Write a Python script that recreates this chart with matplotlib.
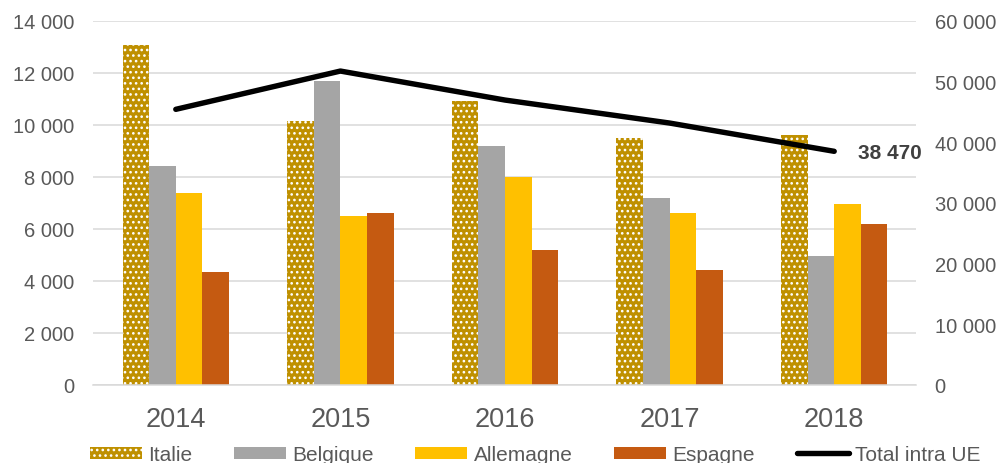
import matplotlib
matplotlib.use("Agg")
import matplotlib.pyplot as plt
import numpy as np
from matplotlib.patches import Patch
from matplotlib.lines import Line2D

years = ["2014", "2015", "2016", "2017", "2018"]
italie = [13060, 10140, 10900, 9500, 9610]
belgique = [8410, 11670, 9170, 7180, 4960]
allemagne = [7390, 6500, 8000, 6620, 6940]
espagne = [4320, 6600, 5180, 4410, 6190]
total_ue = [45390, 51700, 46920, 43130, 38470]
left_ticks = [0, 2000, 4000, 6000, 8000, 10000, 12000, 14000]
right_ticks = [0, 10000, 20000, 30000, 40000, 50000, 60000]

def fmt(v):
    return f"{v:,}".replace(",", " ")

plt.rcParams['font.family'] = ['Liberation Sans', 'DejaVu Sans']
plt.rcParams['hatch.linewidth'] = 1.1

TXT = "#595959"
C_IT = "#BF9000"
C_BE = "#A5A5A5"
C_AL = "#FFC000"
C_ES = "#C55A11"
GRID = "#D9D9D9"

fig = plt.figure(figsize=(10.03, 4.64), dpi=100)
ax = fig.add_axes([93.5/1003, (464-385.7)/464, (916.5-93.5)/1003, (385.7-21.7)/464])
ax2 = ax.twinx()

x = np.arange(len(years))
w = 0.1616
offs = [-1.5*w, -0.5*w, 0.5*w, 1.5*w]
ax.bar(x+offs[0], italie, w, color=C_IT, edgecolor="white", linewidth=0, hatch="...", zorder=2)
ax.bar(x+offs[1], belgique, w, color=C_BE, linewidth=0, zorder=2)
ax.bar(x+offs[2], allemagne, w, color=C_AL, linewidth=0, zorder=2)
ax.bar(x+offs[3], espagne, w, color=C_ES, linewidth=0, zorder=2)

ax.set_xlim(-0.5, len(years)-0.5)
ax.set_ylim(0, 14000)
ax.set_yticks(left_ticks)
ax.set_yticklabels([fmt(v) for v in left_ticks])
ax.set_xticks(x)
ax.set_xticklabels(years)
ax.yaxis.grid(True, color=GRID, linewidth=1.1, zorder=0)
ax.set_axisbelow(True)
for s in ["top", "right", "left"]:
    ax.spines[s].set_visible(False)
ax.spines["bottom"].set_color(GRID)
ax.spines["bottom"].set_linewidth(1.1)
ax.tick_params(axis="y", length=0, pad=14, labelsize=14.5, labelcolor=TXT)
ax.tick_params(axis="x", length=0, pad=15.5, labelsize=19.5, labelcolor=TXT)

ax2.plot(x, total_ue, color="black", linewidth=3.9, solid_capstyle="round", solid_joinstyle="round", zorder=5)
ax2.set_ylim(0, 60000)
ax2.set_yticks(right_ticks)
ax2.set_yticklabels([fmt(v) for v in right_ticks])
ax2.tick_params(axis="y", length=0, pad=13, labelsize=14.5, labelcolor=TXT)
for s in ["top", "right", "left", "bottom"]:
    ax2.spines[s].set_visible(False)
ax2.annotate(fmt(total_ue[-1]), xy=(x[-1], total_ue[-1]), xytext=(17, -1),
             textcoords="offset points", ha="left", va="center",
             fontsize=15, fontweight="bold", color="#404040")

handles = [
    Patch(facecolor=C_IT, edgecolor="white", linewidth=0, hatch="..."),
    Patch(facecolor=C_BE, linewidth=0),
    Patch(facecolor=C_AL, linewidth=0),
    Patch(facecolor=C_ES, linewidth=0),
    Line2D([0], [0], color="black", linewidth=3.9, solid_capstyle="round"),
]
labels = ["Italie", "Belgique", "Allemagne", "Espagne", "Total intra UE"]
leg = fig.legend(handles, labels, loc="center", bbox_to_anchor=(535/1003, 1-455.5/464),
                 ncol=5, frameon=False, fontsize=15, handlelength=2.5, handleheight=0.5,
                 handletextpad=0.3, columnspacing=2.0, borderpad=0, labelcolor=TXT)

fig.savefig("out.png", dpi=100)
